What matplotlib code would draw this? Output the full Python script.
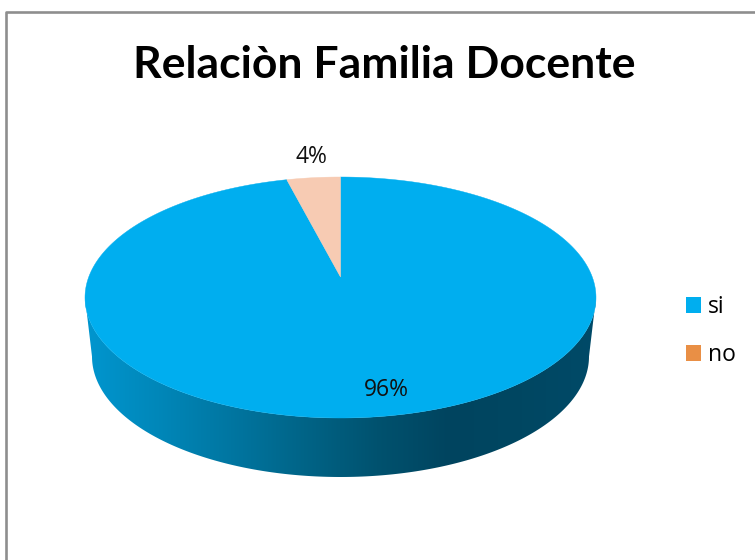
import numpy as np
import matplotlib
matplotlib.use('Agg')
import matplotlib.pyplot as plt
from matplotlib.colors import LinearSegmentedColormap
from matplotlib.patches import Patch, Polygon

categories = ['si', 'no']
values = [96, 4]
slice_colors = ['#00aeef', '#f7cbb3']
legend_colors = ['#00aeef', '#e98f45']
title = 'Relaciòn Familia Docente'

# gradient of the pie side, left to right
side_colors = ['#0096cf', '#0087b9', '#0076a1', '#006487', '#00526f', '#00445f', '#004762', '#004a68']

# pie geometry in pixels
cx, cy, rx, ry = 340.5, 297.5, 255.5, 120.5
depth, shrink = 59, 7
# how far the apex sits above the ellipse centre (perspective)
d = 0.17


def tilt(x, y):
    # move the centre of the disc up, the rim stays on the ellipse
    X = x * np.sqrt(1 - d**2) / (1 + d * y)
    Y = (y + d) / (1 + d * y)
    return cx + rx * X, cy - ry * Y


fig = plt.figure(figsize=(7.55, 5.6), dpi=100)
ax = fig.add_axes([0, 0, 1, 1])
wedges, _ = ax.pie(values, startangle=90, counterclock=False)
ax.set_aspect('auto')
ax.set_xlim(0, 755)
ax.set_ylim(560, 0)
ax.axis('off')

# chart frame
ax.plot([6, 6, 760], [565, 12, 12], color='#8e8e8e', lw=1.9)

# side of the pie
t = np.linspace(0, np.pi, 200)
upper_x = cx + rx * np.cos(t)
upper_y = cy + ry * np.sin(t)
lower_x = cx + (rx - shrink) * np.cos(t[::-1])
lower_y = cy + depth + ry * np.sin(t[::-1])
side = Polygon(np.column_stack([np.r_[upper_x, lower_x], np.r_[upper_y, lower_y]]),
               closed=True, facecolor='none', edgecolor='none')
ax.add_patch(side)
cmap = LinearSegmentedColormap.from_list('side', side_colors)
im = ax.imshow(np.linspace(0, 1, 256)[None, :], cmap=cmap, aspect='auto',
               extent=[cx - rx, cx + rx, cy + depth + ry, cy])
im.set_clip_path(side)
ax.set_xlim(0, 755)
ax.set_ylim(560, 0)

# top of the pie
for w, color in zip(wedges, slice_colors):
    a = np.radians(np.linspace(w.theta1, w.theta2, 300))
    X, Y = tilt(np.r_[0, np.cos(a)], np.r_[0, np.sin(a)])
    ax.add_patch(Polygon(np.column_stack([X, Y]), closed=True, facecolor=color,
                         edgecolor=color, lw=0.3))
    w.remove()

font = ['Lato', 'DejaVu Sans']
pct_pos = [(386, 390), (311, 157)]
for v, (x, y) in zip(values, pct_pos):
    ax.text(x, y, f'{v}%', ha='center', va='center', fontsize=16.5,
            family=['Open Sans', 'DejaVu Sans'], color='#111111')

ax.text(384, 65, title, ha='center', va='center', fontsize=32, fontweight='bold',
        family=font, color='black')

handles = [Patch(facecolor=c, edgecolor='none') for c in legend_colors]
fig.legend(handles, categories, loc='center left', bbox_to_anchor=(686 / 755, 1 - 331 / 560),
           frameon=False, borderpad=0, borderaxespad=0, handlelength=0.66, handleheight=0.66,
           handletextpad=0.3, labelspacing=1.05,
           prop={'family': ['Open Sans', 'DejaVu Sans'], 'size': 16.5})

fig.savefig('out.png', dpi=100)
